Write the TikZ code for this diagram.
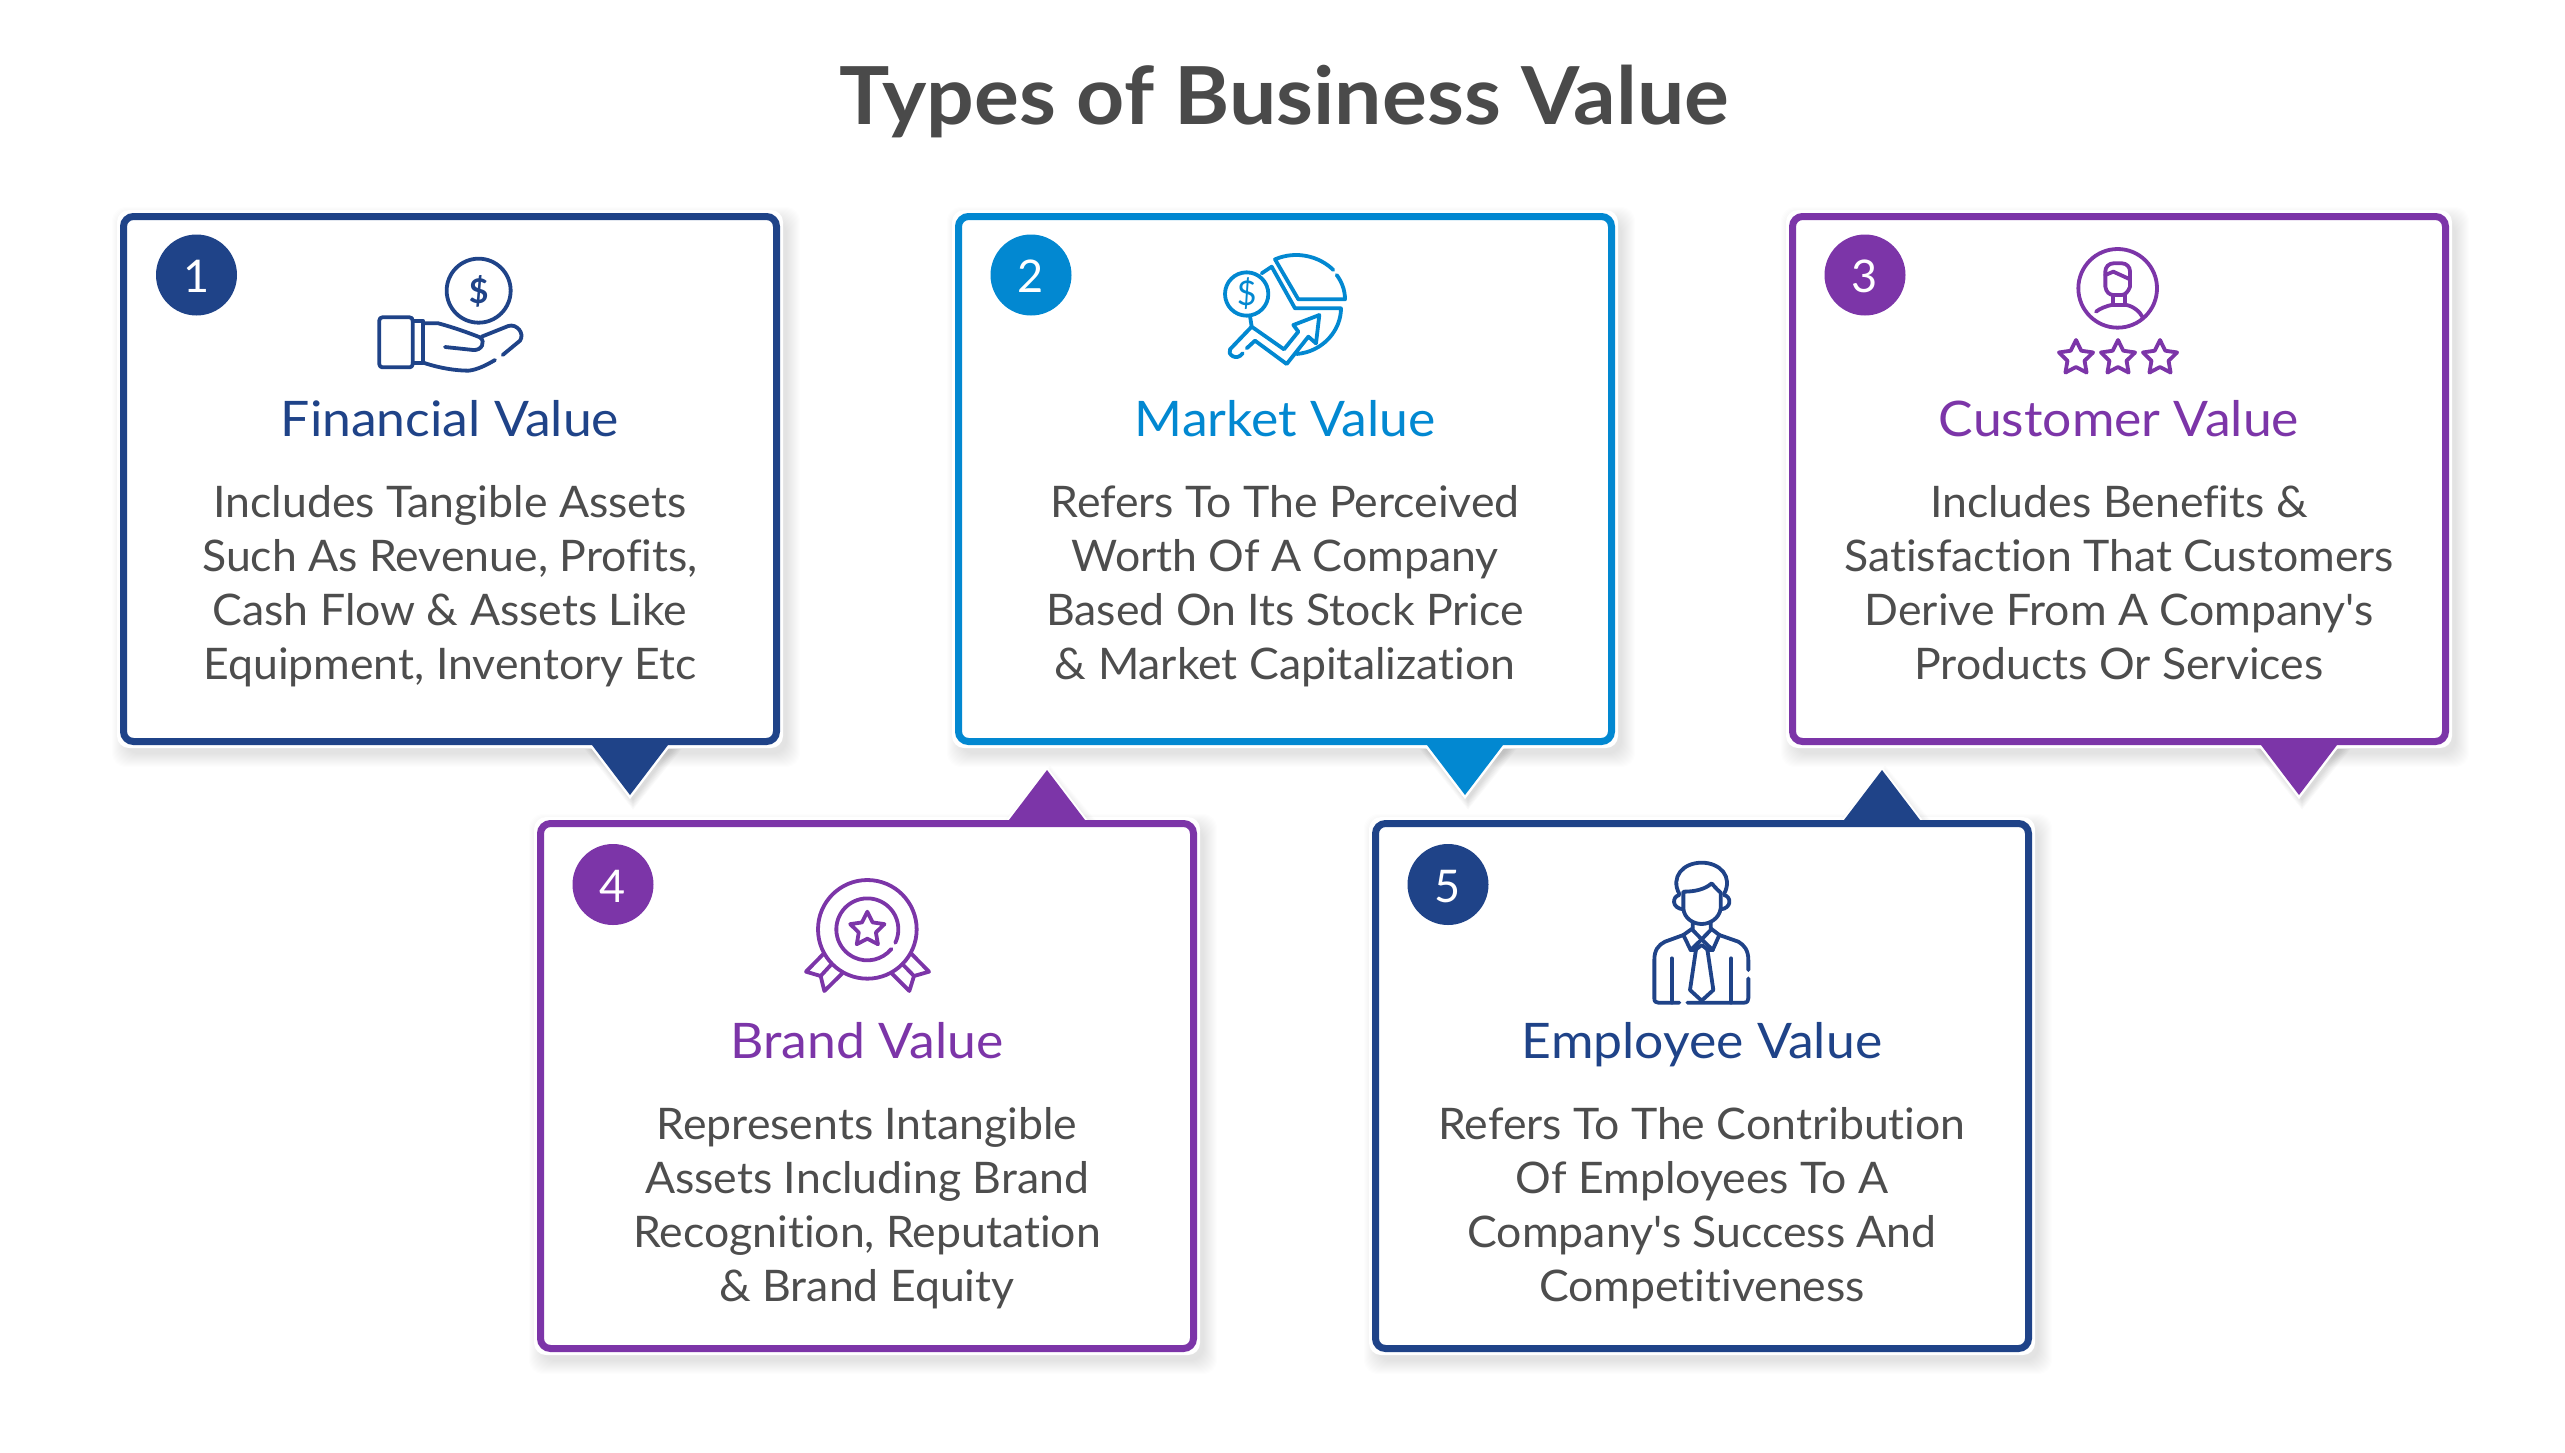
\documentclass[tikz,border=0pt]{standalone}
\usepackage{fontspec}
\usetikzlibrary{shapes.geometric}
\setmainfont{Lato}
\newfontfamily\bodyfont{Lato}[Ligatures={NoCommon,NoContextual},FakeStretch=1.025]
\newfontfamily\headfont{Lato}[Ligatures={NoCommon,NoContextual},FakeStretch=1.055]
\newfontfamily\titlefont{Lato}[Ligatures={NoCommon,NoContextual},FakeStretch=1.05]
\definecolor{navy}{HTML}{1F4388}
\definecolor{skyb}{HTML}{0288D1}
\definecolor{purp}{HTML}{7C35A8}
\definecolor{ttl}{HTML}{4A4A4A}
\definecolor{bodyc}{HTML}{4D4D4D}
\tikzset{
  card/.style={draw=#1,fill=white,line width=7pt,rounded corners=10pt,minimum width=653pt,minimum height=525pt,inner sep=0pt,outer sep=0pt},
  badge/.style={circle,fill=#1,text=white,minimum size=81pt,inner sep=0pt,font=\fontsize{45}{45}\selectfont},
  heading/.style={text=#1,anchor=base,inner sep=0pt,font=\headfont\fontsize{49}{49}\selectfont},
  bodytext/.style={text=bodyc,anchor=north,align=center,inner sep=0pt,font=\bodyfont\fontsize{43.5}{54}\selectfont},
  titletext/.style={text=ttl,anchor=base,inner sep=0pt,font=\titlefont\fontsize{80}{80}\selectfont\bfseries},
  icon/.style={draw=#1,line width=3.8pt,line cap=round,line join=round},
  iconstar/.style={star,star points=5,star point ratio=2,minimum size=#1,inner sep=0pt},
  zoomed/.style 2 args={shift={(#1,#2)},x=0.33333pt,y=-0.33333pt}
}
\newcommand{\firstline}{\rule{0pt}{40pt}}
\newcommand{\num}[1]{\raisebox{-17.5pt}[0pt][0pt]{#1}}
\newcommand{\cardshadow}[2]{%
  \foreach \s in {1,...,14}{
    \fill[black,opacity=0.008,rounded corners=14pt] ({#1-\s+6},{#2-\s+8}) rectangle ({#1+660+\s+6},{#2+532+\s+8});
  }
  \fill[white,rounded corners=12pt] ({#1-3},{#2-3}) rectangle ({#1+663},{#2+535});
}
\newcommand{\downtri}[2]{% x of tip, box bottom
  \foreach \s in {1,...,7}{\fill[black,opacity=0.018] ({#1-38-1.5*\s+3},{#2+4}) -- ({#1+38+1.5*\s+3},{#2+4}) -- ({#1+3},{#2+50+1.5*\s+4}) -- cycle;}
  \draw[white,line width=5pt,line join=miter] ({#1-38},#2) -- ({#1+38},#2) -- (#1,{#2+50}) -- cycle;
}
\newcommand{\uptri}[2]{% x of tip, box top
  \foreach \s in {1,...,5}{\fill[black,opacity=0.012] ({#1-38-1.5*\s+3},#2) -- ({#1+38+1.5*\s+3},#2) -- ({#1+3},{#2-50-1.5*\s+3}) -- cycle;}
  \draw[white,line width=4pt,line join=miter] ({#1-38},#2) -- ({#1+38},#2) -- (#1,{#2-50}) -- cycle;
}
\newcommand{\downfill}[3]{\fill[#3] ({#1-38},{#2-4}) -- ({#1+38},{#2-4}) -- ({#1+38},#2) -- (#1,{#2+50}) -- ({#1-38},#2) -- cycle;}
\newcommand{\upfill}[3]{\fill[#3] ({#1-38},{#2+4}) -- ({#1+38},{#2+4}) -- ({#1+38},#2) -- (#1,{#2-50}) -- ({#1-38},#2) -- cycle;}
\begin{document}
\begin{tikzpicture}[x=1pt,y=-1pt]
\useasboundingbox (0,0) rectangle (2565,1452);
\fill[white] (0,0) rectangle (2565,1452);
% shadows and rims
\cardshadow{120}{213}\cardshadow{955}{213}\cardshadow{1789}{213}
\cardshadow{537}{820}\cardshadow{1372}{820}
\downtri{630}{745}\downtri{1465}{745}\downtri{2299}{745}
\uptri{1047}{820}\uptri{1882}{820}
% cards
\node[card=navy] (card1) at (450,479) {};
\node[card=skyb] (card2) at (1285,479) {};
\node[card=purp] (card3) at (2119,479) {};
\node[card=purp] (card4) at (867,1086) {};
\node[card=navy] (card5) at (1702,1086) {};
\downfill{630}{745}{navy}\downfill{1465}{745}{skyb}\downfill{2299}{745}{purp}
\upfill{1047}{820}{purp}\upfill{1882}{820}{navy}
% title
\node[titletext] (title) at (1284,124) {Types of Business Value};
% badges
\node[badge=navy] (b1) at (196.5,275) {\num{1}};
\node[badge=skyb] (b2) at (1031,275) {\num{2}};
\node[badge=purp] (b3) at (1865,275) {\num{3}};
\node[badge=purp] (b4) at (613,884.5) {\num{4}};
\node[badge=navy] (b5) at (1448,884.5) {\num{5}};
% headings
\node[heading=navy] (h1) at (450,436) {Financial Value};
\node[heading=skyb] (h2) at (1285,436) {Market Value};
\node[heading=purp] (h3) at (2119,436) {Customer Value};
\node[heading=purp] (h4) at (867,1058) {Brand Value};
\node[heading=navy] (h5) at (1702,1058) {Employee Value};
% body
\node[bodytext] (t1) at (450,477) {\firstline Includes Tangible Assets\\Such As Revenue, Profits,\\Cash Flow \& Assets Like\\Equipment, Inventory Etc};
\node[bodytext] (t2) at (1285,477) {\firstline Refers To The Perceived\\Worth Of A Company\\Based On Its Stock Price\\\& Market Capitalization};
\node[bodytext] (t3) at (2119,477) {\firstline Includes Benefits \&\\Satisfaction That Customers\\Derive From A Company's\\Products Or Services};
\node[bodytext] (t4) at (867,1099) {\firstline Represents Intangible\\Assets Including Brand\\Recognition, Reputation\\\& Brand Equity};
\node[bodytext] (t5) at (1702,1099) {\firstline Refers To The Contribution\\Of Employees To A\\Company's Success And\\Competitiveness};
% icon 1
\begin{scope}[zoomed={340}{240}]
\draw[icon=navy] (416,152) circle (96);
\node[text=navy,font=\fontsize{34}{34}\selectfont\bfseries] (d1) at (416,155) {\$};
\draw[icon=navy,rounded corners=3pt] (118,232) rectangle (218,382);
\draw[icon=navy] (218,243) -- (250,243) -- (250,368) -- (218,368);
\draw[icon=navy] (250,250) -- (295,250) .. controls (340,262) and (390,280) .. (420,292) .. controls (438,305) and (425,332) .. (400,330) -- (315,321);
\draw[icon=navy] (425,290) -- (505,258) .. controls (530,250) and (555,280) .. (540,302) -- (488,345);
\draw[icon=navy] (250,368) .. controls (300,385) and (350,392) .. (385,392) .. controls (410,390) and (440,375) .. (465,360);
\end{scope}
% icon 2
\begin{scope}[zoomed={1180}{230}]
\draw[icon=skyb] (200,192) circle (65);
\node[text=skyb,font=\fontsize{34}{34}\selectfont] (d2) at (200,192) {\$};
\draw[icon=skyb] (460,120) .. controls (420,80) and (350,60) .. (285,88) -- (355,208) -- (495,208) .. controls (495,180) and (485,155) .. (470,135);
\draw[icon=skyb] (245,130) -- (275,110) -- (345,235) -- (483,235) .. controls (483,300) and (430,365) .. (350,372);
\draw[icon=skyb] (210,258) -- (215,290) -- (312,358) -- (355,305) -- (340,285) -- (418,255) -- (408,340) -- (385,320) -- (320,402) -- (225,332) -- (200,355);
\draw[icon=skyb] (215,290) -- (150,358) .. controls (140,372) and (170,395) .. (188,370);
\end{scope}
% icon 3
\begin{scope}[zoomed={2020}{230}]
\draw[icon=purp] (293,175) circle (118);
\draw[icon=purp,rounded corners=8pt] (256,135) -- (256,100) -- (330,100) -- (330,148);
\draw[icon=purp] (256,135) -- (280,125) -- (330,148) -- (330,170) .. controls (325,185) and (315,195) .. (305,195) -- (280,195) .. controls (268,195) and (258,185) .. (256,170) -- cycle;
\draw[icon=purp] (278,195) -- (278,226) -- (315,226) -- (315,195);
\draw[icon=purp] (228,245) .. controls (240,235) and (260,228) .. (278,224);
\draw[icon=purp] (315,224) .. controls (340,228) and (360,245) .. (368,262);
\node[iconstar=36pt,icon=purp] (s1) at (168,384) {};
\node[iconstar=36pt,icon=purp] (s2) at (294,384) {};
\node[iconstar=36pt,icon=purp] (s3) at (420,384) {};
\end{scope}
% icon 4
\begin{scope}[zoomed={780}{860}]
\draw[icon=purp] (262,208) circle (148);
\draw[icon=purp] (345.8,248.4) arc[start angle=25.7,end angle=-321,radius=93];
\node[iconstar=36pt,icon=purp] (s4) at (262,209) {};
\draw[icon=purp] (130,282) -- (78,335) -- (122,348) -- (133,393) -- (187,340);
\draw[icon=purp] (155,312) -- (122,348);
\draw[icon=purp] (395,282) -- (447,335) -- (402,348) -- (388,393) -- (335,340);
\draw[icon=purp] (370,315) -- (402,348);
\end{scope}
% icon 5
\begin{scope}[zoomed={1620}{850}]
\draw[icon=navy] (178,132) .. controls (150,80) and (190,38) .. (245,38) .. controls (300,38) and (340,80) .. (312,132);
\draw[icon=navy] (190,125) .. controls (225,125) and (255,118) .. (275,100) .. controls (285,112) and (295,122) .. (302,128) -- (302,175) .. controls (298,205) and (270,222) .. (245,222) .. controls (220,222) and (192,205) .. (190,175) -- cycle;
\draw[icon=navy] (178,135) .. controls (155,140) and (155,175) .. (190,178);
\draw[icon=navy] (312,135) .. controls (335,140) and (335,175) .. (302,178);
\draw[icon=navy] (218,215) -- (218,240) -- (245,268) -- (272,240) -- (272,215);
\draw[icon=navy] (218,235) -- (190,255) -- (212,300) -- (245,268) -- (278,300) -- (298,255) -- (272,235);
\draw[icon=navy] (212,300) -- (228,300) (262,300) -- (278,300);
\draw[icon=navy] (228,298) -- (210,420) -- (245,452) -- (280,420) -- (262,298) -- (245,285) -- cycle;
\draw[icon=navy] (190,255) -- (135,275) .. controls (115,285) and (103,300) .. (103,330) -- (103,445) .. controls (103,455) and (108,458) .. (115,458) -- (178,458);
\draw[icon=navy] (202,458) -- (372,458) .. controls (382,458) and (385,452) .. (385,445) -- (385,385);
\draw[icon=navy] (385,360) -- (385,330) .. controls (385,300) and (372,285) .. (355,275) -- (298,255);
\draw[icon=navy] (155,325) -- (155,458) (333,325) -- (333,458);
\end{scope}
\end{tikzpicture}
\end{document}
